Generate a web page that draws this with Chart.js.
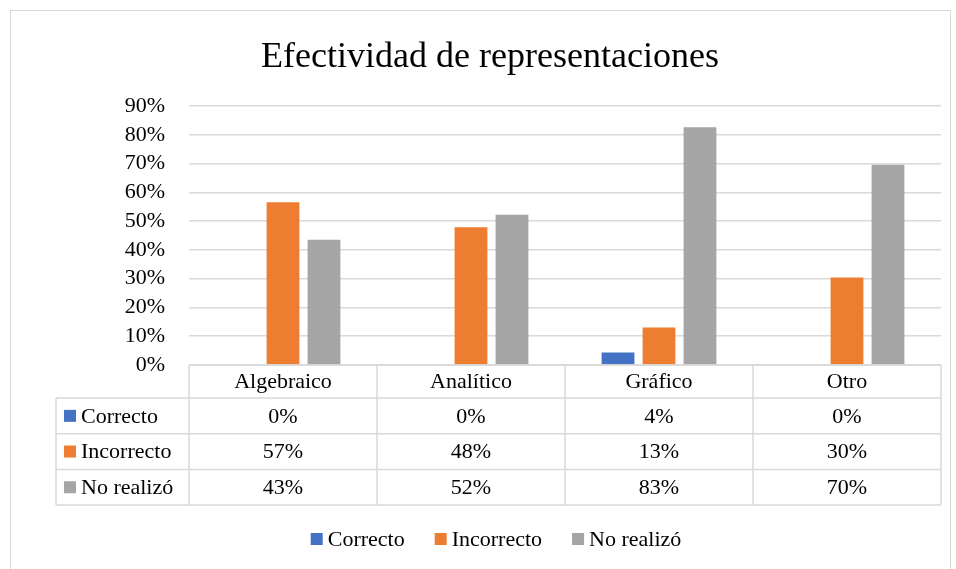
<!DOCTYPE html>
<html>
<head>
<meta charset="utf-8">
<script src="https://cdn.jsdelivr.net/npm/chart.js@4"></script>
<style>
  html, body { margin: 0; padding: 0; background: #fff; overflow: hidden; }
  #wrap { position: relative; width: 956px; height: 569px; }
  #frame { position: absolute; left: 10px; top: 10px; width: 941px; height: 600px; border: 1.5px solid #d9d9d9; box-sizing: border-box; }
  canvas { position: absolute; left: 0; top: 0; }
</style>
</head>
<body>
<div id="wrap">
  <div id="frame"></div>
  <canvas id="chart" width="956" height="569"></canvas>
</div>
<script>
// data
const categories = ["Algebraico", "Analítico", "Gráfico", "Otro"];
const seriesNames = ["Correcto", "Incorrecto", "No realizó"];
const correcto = [0, 0, 0.0435, 0];
const incorrecto = [0.5652, 0.4783, 0.1304, 0.3043];
const noRealizo = [0.4348, 0.5217, 0.8261, 0.6957];
const seriesColors = ["#4472C4", "#ED7D31", "#A5A5A5"];
const titleText = "Efectividad de representaciones";

const FONT = "'Liberation Serif', 'Times New Roman', serif";
const TEXT_SIZE = 22;
const gridColor = "#d9d9d9";
const pct = v => Math.round(v * 100) + "%";

// title, Excel style data table under the plot and legend at the bottom
const dataTable = {
  id: "dataTable",
  afterDraw(chart) {
    const ctx = chart.ctx;
    const area = chart.chartArea;
    const xs = chart.scales.x;
    const n = categories.length;
    const colW = (area.right - area.left) / n;
    const headH = 33, rowH = 35.7;
    const tableLeft = 56;
    const top = area.bottom;
    const bottom = top + headH + rowH * seriesNames.length;

    ctx.save();
    // title (centred over the whole block, not just the canvas)
    ctx.font = "36px " + FONT;
    ctx.fillStyle = "#000";
    ctx.textAlign = "center";
    ctx.textBaseline = "middle";
    ctx.fillText(titleText, 490, 57.5);

    ctx.strokeStyle = gridColor;
    ctx.lineWidth = 1.5;
    ctx.beginPath();
    ctx.moveTo(area.left, top); ctx.lineTo(area.right, top);
    for (let r = 0; r <= seriesNames.length; r++) {
      const y = top + headH + r * rowH;
      ctx.moveTo(tableLeft, y); ctx.lineTo(area.right, y);
    }
    for (let c = 0; c <= n; c++) {
      const x = area.left + c * colW;
      ctx.moveTo(x, top); ctx.lineTo(x, bottom);
    }
    ctx.moveTo(tableLeft, top + headH); ctx.lineTo(tableLeft, bottom);
    ctx.stroke();

    ctx.font = TEXT_SIZE + "px " + FONT;
    categories.forEach((cat, i) => {
      ctx.fillText(cat, xs.getPixelForValue(i), top + headH / 2 + 1);
    });

    chart.data.datasets.forEach((ds, r) => {
      const yMid = top + headH + r * rowH + rowH / 2 + 1;
      ctx.fillStyle = ds.backgroundColor;
      ctx.fillRect(tableLeft + 8, yMid - 7, 12, 12);
      ctx.fillStyle = "#000";
      ctx.textAlign = "left";
      ctx.fillText(ds.label, tableLeft + 25, yMid);
      ctx.textAlign = "center";
      ds.data.forEach((v, i) => {
        ctx.fillText(pct(v), xs.getPixelForValue(i), yMid);
      });
    });

    // legend
    const gap = 30, box = 12, boxGap = 5;
    const widths = chart.data.datasets.map(ds => box + boxGap + ctx.measureText(ds.label).width);
    const total = widths.reduce((a, b) => a + b, 0) + gap * (widths.length - 1);
    let lx = 496 - total / 2;
    const ly = 540;
    chart.data.datasets.forEach((ds, i) => {
      ctx.fillStyle = ds.backgroundColor;
      ctx.fillRect(lx, ly - 7, box, box);
      ctx.fillStyle = "#000";
      ctx.textAlign = "left";
      ctx.fillText(ds.label, lx + box + boxGap, ly);
      lx += widths[i] + gap;
    });
    ctx.restore();
  }
};

const chart = new Chart(document.getElementById("chart"), {
  type: "bar",
  data: {
    labels: categories,
    datasets: [
      { label: seriesNames[0], data: correcto, backgroundColor: seriesColors[0] },
      { label: seriesNames[1], data: incorrecto, backgroundColor: seriesColors[1] },
      { label: seriesNames[2], data: noRealizo, backgroundColor: seriesColors[2] }
    ]
  },
  options: {
    responsive: false,
    animation: false,
    devicePixelRatio: 1,
    categoryPercentage: 0.654,
    barPercentage: 0.8,
    layout: { padding: { top: 106, left: 0, right: 15, bottom: 64 } },
    plugins: {
      legend: { display: false },
      tooltip: { enabled: false },
      title: { display: false }
    },
    scales: {
      x: {
        grid: { display: false },
        border: { display: false },
        ticks: { display: false },
        afterFit: s => { s.height = 140; }
      },
      y: {
        min: 0,
        max: 0.9,
        ticks: {
          stepSize: 0.1,
          autoSkip: false,
          color: "#000",
          padding: 24,
          font: { family: FONT, size: TEXT_SIZE, lineHeight: 1 },
          callback: v => pct(v)
        },
        grid: { color: gridColor, lineWidth: 1.5, drawTicks: false },
        border: { display: false },
        afterFit: s => { s.width = 189; }
      }
    }
  },
  plugins: [dataTable]
});
</script>
</body>
</html>
